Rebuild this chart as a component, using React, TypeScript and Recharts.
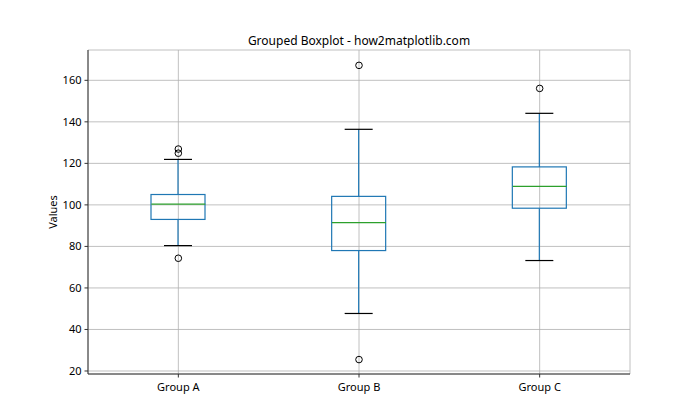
import React from 'react';
import { ComposedChart, Bar, Line, XAxis, YAxis, CartesianGrid } from 'recharts';

const categories = ['Group A', 'Group B', 'Group C'];
const whiskerLow = [80.4, 47.7, 73.2];
const q1 = [93.0, 78.0, 98.4];
const median = [100.4, 91.5, 108.9];
const q3 = [105.0, 104.1, 118.3];
const whiskerHigh = [121.9, 136.4, 144.1];
const outliers: number[][] = [[126.9, 124.9, 74.3], [167.2, 25.5], [156.1]];
const yTicks = [20, 40, 60, 80, 100, 120, 140, 160];

const data = categories.map((name, i) => ({
  name,
  lower: [whiskerLow[i], q1[i]],
  upper: [q3[i], whiskerHigh[i]],
  box: [q1[i], q3[i]],
  med: median[i],
  o1: outliers[i][0] ?? null,
  o2: outliers[i][1] ?? null,
  o3: outliers[i][2] ?? null,
}));

const FONT = '"Noto Sans", "Open Sans", sans-serif';
const BLUE = '#1f77b4';

const BoxShape = (p: any) => {
  const top = Math.min(p.y, p.y + p.height);
  const h = Math.abs(p.height);
  return <rect x={p.x} y={top} width={p.width} height={h} fill="none" stroke={BLUE} strokeWidth={1.2} />;
};

const UpperWhisker = (p: any) => {
  const top = Math.min(p.y, p.y + p.height);
  const bot = Math.max(p.y, p.y + p.height);
  const cx = p.x + p.width / 2;
  return (
    <g>
      <line x1={cx} x2={cx} y1={top} y2={bot} stroke={BLUE} strokeWidth={1.2} />
      <line x1={p.x} x2={p.x + p.width} y1={top} y2={top} stroke="#000" strokeWidth={1.2} />
    </g>
  );
};

const LowerWhisker = (p: any) => {
  const top = Math.min(p.y, p.y + p.height);
  const bot = Math.max(p.y, p.y + p.height);
  const cx = p.x + p.width / 2;
  return (
    <g>
      <line x1={cx} x2={cx} y1={top} y2={bot} stroke={BLUE} strokeWidth={1.2} />
      <line x1={p.x} x2={p.x + p.width} y1={bot} y2={bot} stroke="#000" strokeWidth={1.2} />
    </g>
  );
};

const MedianDot = (p: any) => {
  if (p.cy == null || p.value == null) return <g key={p.key} />;
  return <line key={p.key} x1={p.cx - 27} x2={p.cx + 27} y1={p.cy} y2={p.cy} stroke="#2ca02c" strokeWidth={1.2} />;
};

const OutlierDot = (p: any) => {
  if (p.cy == null || p.value == null || Number.isNaN(p.cy)) return <g key={p.key} />;
  return <circle key={p.key} cx={p.cx} cy={p.cy} r={3.3} fill="none" stroke="#000" strokeWidth={1} />;
};

export default function App() {
  return (
    <div style={{ position: 'absolute', left: 0, top: 0, width: 700, height: 420, background: '#fff', fontFamily: FONT }}>
      <div style={{ position: 'absolute', left: 0, width: 718, top: 32, textAlign: 'center', fontSize: 12, color: '#000' }}>
        Grouped Boxplot - how2matplotlib.com
      </div>
      <div style={{ position: 'absolute', left: 52, top: 212, transform: 'translate(-50%, -50%) rotate(-90deg)', fontSize: 11, color: '#000', whiteSpace: 'nowrap' }}>
        Values
      </div>
      <ComposedChart width={700} height={420} data={data} margin={{ top: 50, right: 70, bottom: 16, left: 38 }}>
        <CartesianGrid stroke="#b0b0b0" strokeWidth={0.8} xAxisId="a" yAxisId="l" />
        <XAxis xAxisId="a" dataKey="name" type="category" height={30} tickSize={3.5} tickMargin={6}
          tick={{ fontSize: 11, fill: '#000', fontFamily: FONT }} tickLine={{ stroke: '#333' }} axisLine={{ stroke: '#333' }} />
        <XAxis xAxisId="b" dataKey="name" type="category" hide />
        <XAxis xAxisId="c" dataKey="name" type="category" hide />
        <XAxis xAxisId="top" dataKey="name" type="category" orientation="top" height={0} tick={false} tickLine={false} axisLine={{ stroke: '#333' }} />
        <YAxis yAxisId="l" type="number" domain={[18.55, 174.6]} allowDataOverflow ticks={yTicks} width={50} tickSize={3.5} tickMargin={3}
          tick={{ fontSize: 11, fill: '#000', fontFamily: FONT }} tickLine={{ stroke: '#333' }} axisLine={{ stroke: '#333' }} />
        <YAxis yAxisId="r" orientation="right" type="number" domain={[18.55, 174.6]} width={0} tick={false} tickLine={false} axisLine={{ stroke: '#333' }} />
        <Bar xAxisId="a" yAxisId="l" dataKey="lower" barSize={28} shape={LowerWhisker} isAnimationActive={false} />
        <Bar xAxisId="c" yAxisId="l" dataKey="upper" barSize={28} shape={UpperWhisker} isAnimationActive={false} />
        <Bar xAxisId="b" yAxisId="l" dataKey="box" barSize={54} shape={BoxShape} isAnimationActive={false} />
        <Line xAxisId="a" yAxisId="l" dataKey="med" stroke="none" dot={MedianDot} activeDot={false} isAnimationActive={false} />
        <Line xAxisId="a" yAxisId="l" dataKey="o1" stroke="none" dot={OutlierDot} activeDot={false} isAnimationActive={false} />
        <Line xAxisId="a" yAxisId="l" dataKey="o2" stroke="none" dot={OutlierDot} activeDot={false} isAnimationActive={false} />
        <Line xAxisId="a" yAxisId="l" dataKey="o3" stroke="none" dot={OutlierDot} activeDot={false} isAnimationActive={false} />
      </ComposedChart>
    </div>
  );
}
